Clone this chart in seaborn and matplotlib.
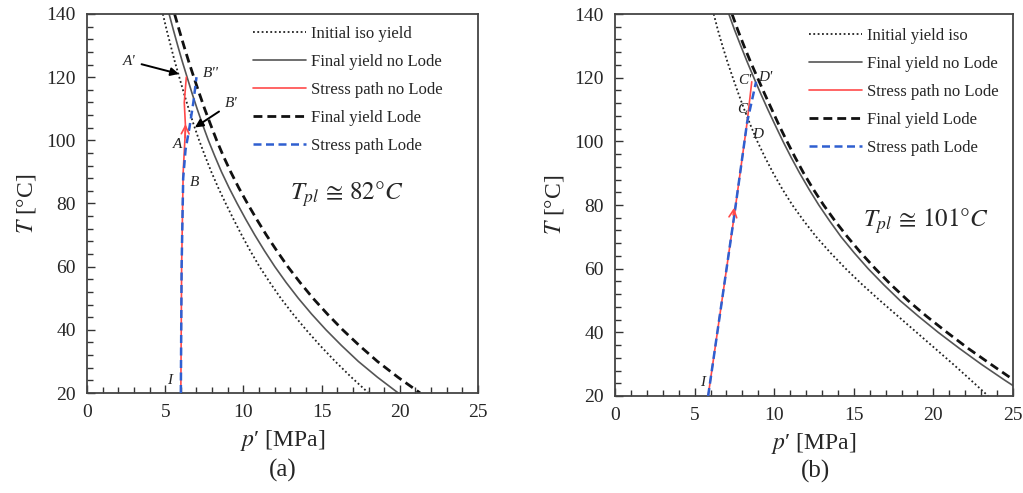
import numpy as np
import pandas as pd
import seaborn as sns
import matplotlib
matplotlib.use("Agg")
import matplotlib.pyplot as plt
from matplotlib.ticker import MultipleLocator

# ---------------- data ----------------
T_grid = [140, 135, 130, 125, 120, 115, 110, 105, 100, 95, 90, 85, 80,
          75, 70, 65, 60, 55, 50, 45, 40, 35, 30, 25, 20]

# panel (a)  p' [MPa] along T_grid
a_init_iso = [4.85, 5.09, 5.35, 5.61, 5.90, 6.19, 6.50, 6.82, 7.17, 7.55, 7.95, 8.39, 8.87,
              9.37, 9.89, 10.44, 11.03, 11.69, 12.39, 13.17, 14.01, 14.91, 15.87, 16.90, 18.0]
a_final_noLode = [5.25, 5.52, 5.80, 6.09, 6.40, 6.71, 7.04, 7.39, 7.76, 8.17, 8.60, 9.08, 9.60,
                  10.15, 10.73, 11.35, 12.01, 12.73, 13.51, 14.36, 15.28, 16.28, 17.35, 18.57, 19.9]
a_final_Lode = [5.60, 5.89, 6.19, 6.50, 6.83, 7.17, 7.52, 7.90, 8.29, 8.72, 9.19, 9.70, 10.26,
                10.85, 11.47, 12.14, 12.84, 13.62, 14.45, 15.37, 16.35, 17.42, 18.57, 19.88, 21.3]
a_path_noLode_p = [6.0, 6.05, 6.15, 6.3, 6.22, 6.35]
a_path_noLode_T = [20, 60, 90, 104, 112, 120]
a_path_Lode_p = [6.0, 6.05, 6.15, 6.3, 6.55, 6.8, 7.0]
a_path_Lode_T = [20, 60, 88, 97, 104, 112, 120]

# panel (b)
b_init_iso = [6.20, 6.46, 6.75, 7.06, 7.40, 7.75, 8.12, 8.52, 8.94, 9.42, 9.94, 10.51, 11.14,
              11.86, 12.64, 13.53, 14.49, 15.53, 16.64, 17.79, 18.94, 20.09, 21.24, 22.35, 23.44]
b_final_noLode = [7.15, 7.51, 7.90, 8.30, 8.72, 9.15, 9.60, 10.07, 10.55, 11.06, 11.60, 12.18, 12.80,
                  13.48, 14.20, 15.02, 15.90, 16.87, 17.90, 19.07, 20.30, 21.62, 23.0, 24.47, 26.0]
b_final_Lode = [7.35, 7.71, 8.10, 8.51, 8.95, 9.39, 9.85, 10.31, 10.80, 11.31, 11.85, 12.45, 13.10,
                13.82, 14.60, 15.44, 16.35, 17.33, 18.40, 19.58, 20.85, 22.17, 23.6, 25.05, 26.6]
b_path_noLode_p = [5.85, 7.5, 8.3, 8.59]
b_path_noLode_T = [20, 77, 106, 118.7]
b_path_Lode_p = [5.85, 7.5, 8.3, 8.86]
b_path_Lode_T = [20, 77, 106, 118.7]

labels_a = ["Initial iso yield", "Final yield no Lode", "Stress path no Lode",
            "Final yield Lode", "Stress path Lode"]
labels_b = ["Initial yield iso", "Final yield no Lode", "Stress path no Lode",
            "Final yield Lode", "Stress path Lode"]

# ---------------- style ----------------
sns.set_style("white")
plt.rcParams["font.family"] = ["Liberation Serif", "DejaVu Serif"]
plt.rcParams["mathtext.fontset"] = "stix"

fig = plt.figure(figsize=(10.23, 4.93), dpi=100)
ax_a = fig.add_axes([87 / 1023, 1 - 393 / 493, (478 - 87) / 1023, (393 - 14) / 493])
ax_b = fig.add_axes([615 / 1023, 1 - 396 / 493, (1013 - 615) / 1023, (396 - 14) / 493])

DOT = (0, (1, 1.4))
DASH = (0, (3.2, 1.8))
RED = "#ff4a4a"
BLUE = "#2f5fd0"


def draw(ax, init, fnl, fl, pn_p, pn_T, pl_p, pl_T, labels):
    sns.lineplot(x=init, y=T_grid, sort=False, estimator=None, ax=ax, color="#222222",
                 linestyle=DOT, lw=1.3, label=labels[0])
    sns.lineplot(x=fnl, y=T_grid, sort=False, estimator=None, ax=ax, color="#555555",
                 lw=1.2, label=labels[1])
    sns.lineplot(x=pn_p, y=pn_T, sort=False, estimator=None, ax=ax, color=RED,
                 lw=1.2, label=labels[2], zorder=4)
    sns.lineplot(x=fl, y=T_grid, sort=False, estimator=None, ax=ax, color="#111111",
                 linestyle=DASH, lw=2.0, label=labels[3])
    sns.lineplot(x=pl_p, y=pl_T, sort=False, estimator=None, ax=ax, color=BLUE,
                 linestyle=DASH, lw=1.8, label=labels[4], zorder=5)
    ax.set_xlim(0, 25)
    ax.set_ylim(20, 140)
    ax.xaxis.set_major_locator(MultipleLocator(5))
    ax.xaxis.set_minor_locator(MultipleLocator(1))
    ax.yaxis.set_major_locator(MultipleLocator(20))
    ax.yaxis.set_minor_locator(MultipleLocator(4))
    ax.tick_params(which="both", direction="in", color="#333333", width=1.0,
                   labelsize=14, bottom=True, left=True, top=False, right=False)
    ax.tick_params(which="major", length=6, pad=8)
    ax.tick_params(which="minor", length=4)
    for s in ax.spines.values():
        s.set_color("#444444")
        s.set_linewidth(1.3)
    ax.set_xlabel(r"$p$′ [MPa]", fontsize=17, labelpad=5)
    ax.set_ylabel(r"$T$ [°C]", fontsize=17, labelpad=6)


draw(ax_a, a_init_iso, a_final_noLode, a_final_Lode, a_path_noLode_p, a_path_noLode_T,
     a_path_Lode_p, a_path_Lode_T, labels_a)
draw(ax_b, b_init_iso, b_final_noLode, b_final_Lode, b_path_noLode_p, b_path_noLode_T,
     b_path_Lode_p, b_path_Lode_T, labels_b)

leg_kw = dict(loc="upper left", frameon=False, fontsize=12, handlelength=3.2,
              labelspacing=0.72, handletextpad=0.3, borderaxespad=0.3)
ax_a.legend(bbox_to_anchor=(0.395, 1.0), **leg_kw)
ax_b.legend(bbox_to_anchor=(0.458, 0.995), **leg_kw)

# red direction arrows
arr = dict(arrowstyle="->", color=RED, lw=1.2, mutation_scale=14)
ax_a.annotate("", xy=(6.3, 106), xytext=(6.27, 100), arrowprops=arr, zorder=6)
ax_b.annotate("", xy=(7.5, 80), xytext=(7.4, 76), arrowprops=arr, zorder=6)

# point labels panel (a)
lab = dict(fontsize=11, style="italic", color="#222222")
ax_a.text(5.1, 23, "I", **lab)
ax_a.text(5.5, 97.5, "A", **lab)
ax_a.text(6.6, 85.5, "B", **lab)
ax_a.text(7.4, 120, "B''", **lab)
ax_a.annotate("A'", xy=(6.05, 120.8), xytext=(2.3, 124), fontsize=11, style="italic",
              arrowprops=dict(arrowstyle="-|>", color="black", lw=1.4, mutation_scale=12))
ax_a.annotate("B'", xy=(6.75, 103.6), xytext=(8.8, 110.5), fontsize=11, style="italic",
              arrowprops=dict(arrowstyle="-|>", color="black", lw=1.4, mutation_scale=12))

# point labels panel (b)
ax_b.text(5.35, 23, "I", **lab)
ax_b.text(7.75, 118, "C'", **lab)
ax_b.text(9.0, 119, "D'", **lab)
ax_b.text(7.7, 109, "C", **lab)
ax_b.text(8.6, 101, "D", **lab)

ax_a.text(16.6, 83.0, r"$T_{pl}\,\cong\,82°C$", fontsize=18, ha="center", va="center")
ax_b.text(19.5, 75.0, r"$T_{pl}\,\cong\,101°C$", fontsize=18, ha="center", va="center")

fig.text(283 / 1023, 1 - 470 / 493, "(a)", fontsize=18, ha="center", va="center")
fig.text(816 / 1023, 1 - 471 / 493, "(b)", fontsize=18, ha="center", va="center")

fig.savefig("out.png", dpi=100)
